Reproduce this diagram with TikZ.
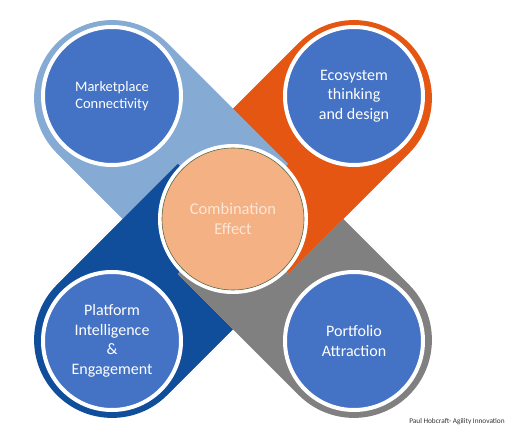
\documentclass[tikz,border=0pt]{standalone}
\usepackage{fontspec}
\setmainfont{Carlito}
\usepackage{xcolor}
\usepackage{tikz}
\usetikzlibrary{positioning}
\usetikzlibrary{calc}

\definecolor{lightband}{RGB}{133,170,212}
\definecolor{orangeband}{RGB}{228,86,17}
\definecolor{darkband}{RGB}{16,78,156}
\definecolor{grayband}{RGB}{128,128,128}
\definecolor{petalblue}{RGB}{68,114,196}
\definecolor{corepeach}{RGB}{244,177,131}
\definecolor{coreline}{RGB}{84,104,72}
\definecolor{coretext}{RGB}{252,230,214}
\definecolor{credittext}{RGB}{50,50,50}

\begin{document}
\begin{tikzpicture}[x=1pt,y=1pt,
    petal/.style={circle, inner sep=0pt, minimum size=138pt, fill=petalblue,
        draw=white, line width=4pt, text=white, align=center,
        font=\fontsize{16}{19.5}\selectfont},
    core/.style={circle, inner sep=0pt, minimum size=142pt, fill=corepeach,
        draw=coreline, line width=0.6pt, preaction={draw=white, line width=8pt},
        text=coretext, align=center, font=\fontsize{16.5}{20}\selectfont}]

    \fill[white] (0,0) rectangle (531,442);
    \useasboundingbox (0,0) rectangle (531,442);

    \coordinate (C) at (233,223);

    % the four bands of the cross
    \fill[lightband, shift={(C)}, rotate=135] (0,0) -- (0,-78) -- (171,-78)
        arc[start angle=-90, end angle=90, radius=78] -- (78,78) -- (78,0) -- cycle;
    \fill[orangeband, shift={(C)}, rotate=45] (0,0) -- (0,-78) -- (171,-78)
        arc[start angle=-90, end angle=90, radius=78] -- (78,78) -- (78,0) -- cycle;
    \fill[darkband, shift={(C)}, rotate=225] (0,0) -- (0,-78) -- (171,-78)
        arc[start angle=-90, end angle=90, radius=78] -- (78,78) -- (78,0) -- cycle;
    \fill[grayband, shift={(C)}, rotate=315] (0,0) -- (0,-78) -- (171,-78)
        arc[start angle=-90, end angle=90, radius=78] -- (78,78) -- (78,0) -- cycle;

    \node[petal, font=\fontsize{14.5}{17.5}\selectfont] (market) at (112,346) {Marketplace\\Connectivity};
    \node[petal] (eco) at (354,346) {Ecosystem\\thinking\\and design};
    \node[petal] (platform) at (112,101) {Platform\\Intelligence\\\&\\Engagement};
    \node[petal] (portfolio) at (354,101) {Portfolio\\Attraction};

    \node[core] (combo) at (C) {Combination\\Effect};

    \node[text=credittext, font=\fontsize{7.3}{9}\selectfont] (credit) at (457,20) {Paul Hobcraft- Agility Innovation};

\end{tikzpicture}
\end{document}
